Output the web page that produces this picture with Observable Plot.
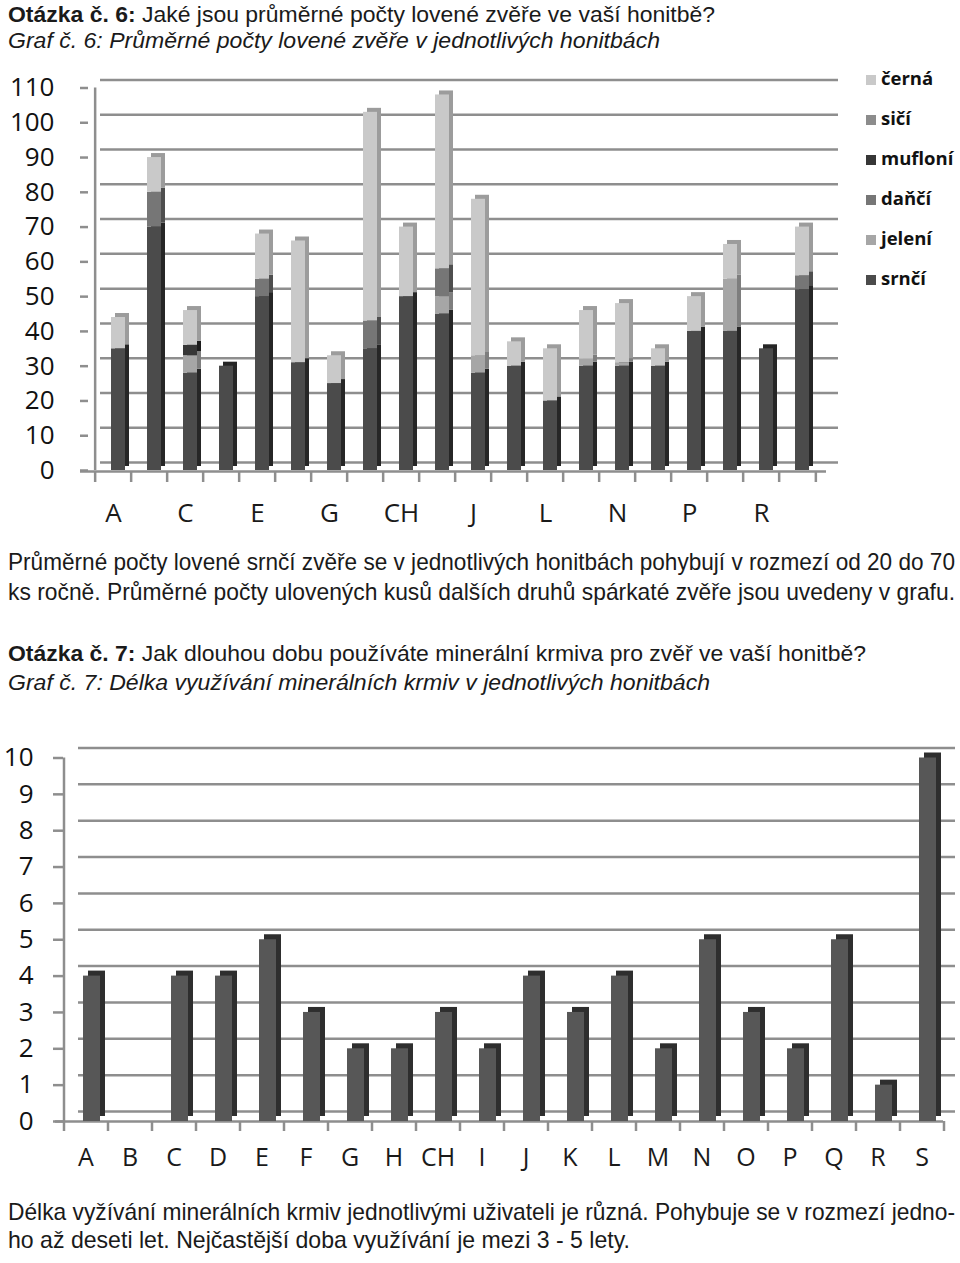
<!DOCTYPE html>
<html><head><meta charset="utf-8">
<script src="https://cdn.jsdelivr.net/npm/d3@7"></script>
<script src="https://cdn.jsdelivr.net/npm/@observablehq/plot@0.6"></script>
<style>
body{margin:0;background:#fff;}
#page{position:relative;width:960px;height:1263px;overflow:hidden;background:#fff;}
.t{position:absolute;left:8px;font-family:"Liberation Sans",Arial,sans-serif;color:#1a1a1a;white-space:nowrap;line-height:1;transform-origin:0 0;}
.q{font-size:22px;}
.p{font-size:24px;}
.i{font-style:italic;}
.chart{position:absolute;left:0;}
#legend{position:absolute;left:866px;top:0;font-family:"Open Sans",sans-serif;font-weight:700;font-size:18.5px;color:#111;}
#legend .it{position:absolute;left:0;white-space:nowrap;line-height:1;}
#legend .sw{display:inline-block;width:10px;height:10px;margin-right:5px;vertical-align:0px;}
</style></head>
<body><div id="page">
<div class="t q" data-w="707" style="top:3.5px"><b>Otázka č. 6:</b> Jaké jsou průměrné počty lovené zvěře ve vaší honitbě?</div>
<div class="t q i" data-w="652" style="top:29.5px">Graf č. 6: Průměrné počty lovené zvěře v jednotlivých honitbách</div>
<div id="c1" class="chart" style="top:60px"></div>
<div id="legend"></div>
<div class="t p" data-w="947" style="top:549.7px">Průměrné počty lovené srnčí zvěře se v jednotlivých honitbách pohybují v rozmezí od 20 do 70</div>
<div class="t p" data-w="947" style="top:579.7px">ks ročně. Průměrné počty ulovených kusů dalších druhů spárkaté zvěře jsou uvedeny v grafu.</div>
<div class="t q" data-w="858" style="top:642.5px"><b>Otázka č. 7:</b> Jak dlouhou dobu používáte minerální krmiva pro zvěř ve vaší honitbě?</div>
<div class="t q i" data-w="702" style="top:671.5px">Graf č. 7: Délka využívání minerálních krmiv v jednotlivých honitbách</div>
<div id="c2" class="chart" style="top:735px"></div>
<div class="t p" data-w="947" style="top:1199.7px">Délka vyžívání minerálních krmiv jednotlivými uživateli je různá. Pohybuje se v rozmezí jedno-</div>
<div class="t p" data-w="622" style="top:1227.7px">ho až deseti let. Nejčastější doba využívání je mezi 3 - 5 lety.</div>
</div>
<script>
// ---- data: graf 6 ----
const honitby = ["A","B","C","D","E","F","G","H","CH","I","J","K","L","M","N","O","P","Q","R","S"];
const druhy = ["srnčí","jelení","daňčí","mufloní","sičí","černá"];           // stacking order (bottom -> top)
const legendOrder = ["černá","sičí","mufloní","daňčí","jelení","srnčí"];
const srnci   = [35,70,28,30,50,31,25,35,50,45,28,30,20,30,30,30,40,40,35,52];
const jeleni  = [ 0, 0, 5, 0, 0, 0, 0, 0, 0, 5, 5, 0, 0, 2, 1, 0, 0,15, 0, 0];
const danci   = [ 0,10, 0, 0, 5, 0, 0, 8, 0, 8, 0, 0, 0, 0, 0, 0, 0, 0, 0, 4];
const mufloni = [ 0, 0, 3, 0, 0, 0, 0, 0, 0, 0, 0, 0, 0, 0, 0, 0, 0, 0, 0, 0];
const sici    = [ 0, 0, 0, 0, 0, 0, 0, 0, 0, 0, 0, 0, 0, 0, 0, 0, 0, 0, 0, 0];
const cerna   = [ 9,10,10, 0,13,35, 8,60,20,50,45, 7,15,14,17, 5,10,10, 0,14];
const yTicks1 = [0,10,20,30,40,50,60,70,80,90,100,110];
const xLabels1 = ["A","C","E","G","CH","J","L","N","P","R"];
// ---- data: graf 7 ----
const roky = [4,0,4,4,5,3,2,2,3,2,4,3,4,2,5,3,2,5,1,10];
const yTicks2 = [0,1,2,3,4,5,6,7,8,9,10];
const xLabels2 = honitby;

// ---- styles ----
const frontColor = {"srnčí":"#4b4b4b","jelení":"#a6a6a6","daňčí":"#767676","mufloní":"#363636","sičí":"#8c8c8c","černá":"#c9c9c9"};
const sideColor  = {"srnčí":"#262626","jelení":"#7e7e7e","daňčí":"#4e4e4e","mufloní":"#1c1c1c","sičí":"#666666","černá":"#9c9c9c"};
const gridC = "#8e8e8e";

// fit text lines to the reference widths
document.querySelectorAll(".t").forEach(el => {
  const w = +el.dataset.w, a = el.getBoundingClientRect().width;
  if (w && a) el.style.transform = `scaleX(${w / a})`;
});

const series = [srnci, jeleni, danci, mufloni, sici, cerna];
const rows1 = [];
honitby.forEach((h, i) => druhy.forEach((d, j) => {
  if (series[j][i] > 0) rows1.push({honitba: h, druh: d, pocet: series[j][i]});
}));
const first = honitby[0], last = honitby[honitby.length - 1];

// ---- chart 1 ----
const W1 = 860, H1 = 480, ML1 = 88, MR1 = 38, MT1 = 27.5, MB1 = 70;
const step1 = (W1 - ML1 - MR1) / honitby.length;
const d1 = 4, bx1 = 5;
const c1 = Plot.plot({
  width: W1, height: H1, marginLeft: ML1, marginRight: MR1, marginTop: MT1, marginBottom: MB1,
  style: {fontFamily: "'Open Sans', sans-serif", background: "transparent", overflow: "visible"},
  x: {type: "band", domain: honitby, paddingInner: 0.62, paddingOuter: 0.31},
  y: {domain: [0, 110]},
  color: {type: "identity"},
  marks: [
    Plot.ruleY(yTicks1, {dx: 12, dy: -8, insetRight: -4, stroke: gridC, strokeWidth: 2.5}),
    Plot.ruleY([0], {dy: 1, insetLeft: -8, insetRight: -4, stroke: gridC, strokeWidth: 2.5}),
    Plot.ruleX([first], {x: d => d, y1: 0, y2: 110, dx: -step1 / 2, stroke: gridC, strokeWidth: 2.5}),
    Plot.ruleX(honitby, {x: d => d, y1: 0, y2: 0, dx: -step1 / 2, dy: 1, insetBottom: -11, stroke: gridC, strokeWidth: 2.5}),
    Plot.ruleX([last], {x: d => d, y1: 0, y2: 0, dx: step1 / 2, dy: 1, insetBottom: -11, stroke: gridC, strokeWidth: 2.5}),
    Plot.axisY(yTicks1, {tickSize: 8, tickPadding: 26, fontSize: 26, stroke: gridC, strokeWidth: 2.5, fill: "#111", label: null}),
    Plot.axisX(xLabels1, {tickSize: 0, tickPadding: 33, fontSize: 26, fill: "#1a1a1a", label: null}),
    Plot.barY(rows1, Plot.stackY({x: "honitba", y: "pocet", z: "druh", order: druhy, fill: d => sideColor[d.druh], dx: bx1 + d1, dy: -d1})),
    Plot.barY(rows1, Plot.stackY({x: "honitba", y: "pocet", z: "druh", order: druhy, fill: d => frontColor[d.druh], dx: bx1}))
  ]
});
document.getElementById("c1").append(c1);

// legend
const lg = document.getElementById("legend");
const legendTops = [69, 109, 149, 189, 229, 269];
legendOrder.forEach((d, k) => {
  const it = document.createElement("div");
  it.className = "it";
  it.style.top = legendTops[k] + "px";
  it.innerHTML = `<span class="sw" style="background:${frontColor[d]}"></span>${d}`;
  lg.append(it);
});

// ---- chart 2 ----
const rows2 = honitby.map((h, i) => ({honitba: h, roky: roky[i]}));
const W2 = 960, H2 = 440, ML2 = 63, MR2 = 17, MT2 = 22.5, MB2 = 54;
const step2 = (W2 - ML2 - MR2) / honitby.length;
const d2 = 5, bx2 = 6;
const c2 = Plot.plot({
  width: W2, height: H2, marginLeft: ML2, marginRight: MR2, marginTop: MT2, marginBottom: MB2,
  style: {fontFamily: "'Open Sans', sans-serif", background: "transparent", overflow: "visible"},
  x: {type: "band", domain: honitby, paddingInner: 0.62, paddingOuter: 0.31},
  y: {domain: [0, 10]},
  marks: [
    Plot.ruleY(yTicks2, {dx: 15, dy: -10, insetRight: 3, stroke: gridC, strokeWidth: 2.5}),
    Plot.ruleY([0], {insetLeft: -8, stroke: gridC, strokeWidth: 2.5}),
    Plot.ruleX([first], {x: d => d, y1: 0, y2: 10, dx: -step2 / 2, stroke: gridC, strokeWidth: 2.5}),
    Plot.ruleX(honitby, {x: d => d, y1: 0, y2: 0, dx: -step2 / 2, insetBottom: -10, stroke: gridC, strokeWidth: 2.5}),
    Plot.ruleX([last], {x: d => d, y1: 0, y2: 0, dx: step2 / 2, insetBottom: -10, stroke: gridC, strokeWidth: 2.5}),
    Plot.axisY(yTicks2, {tickSize: 10, tickPadding: 20, fontSize: 26, stroke: gridC, strokeWidth: 2.5, fill: "#111", label: null}),
    Plot.axisX(xLabels2, {tickSize: 0, tickPadding: 27, fontSize: 25, fill: "#1a1a1a", label: null}),
    Plot.barY(rows2, {x: "honitba", y: "roky", fill: "#2e2e2e", dx: bx2 + d2, dy: -d2}),
    Plot.barY(rows2, {x: "honitba", y: "roky", fill: "#575757", dx: bx2})
  ]
});
document.getElementById("c2").append(c2);
</script>
</body></html>
